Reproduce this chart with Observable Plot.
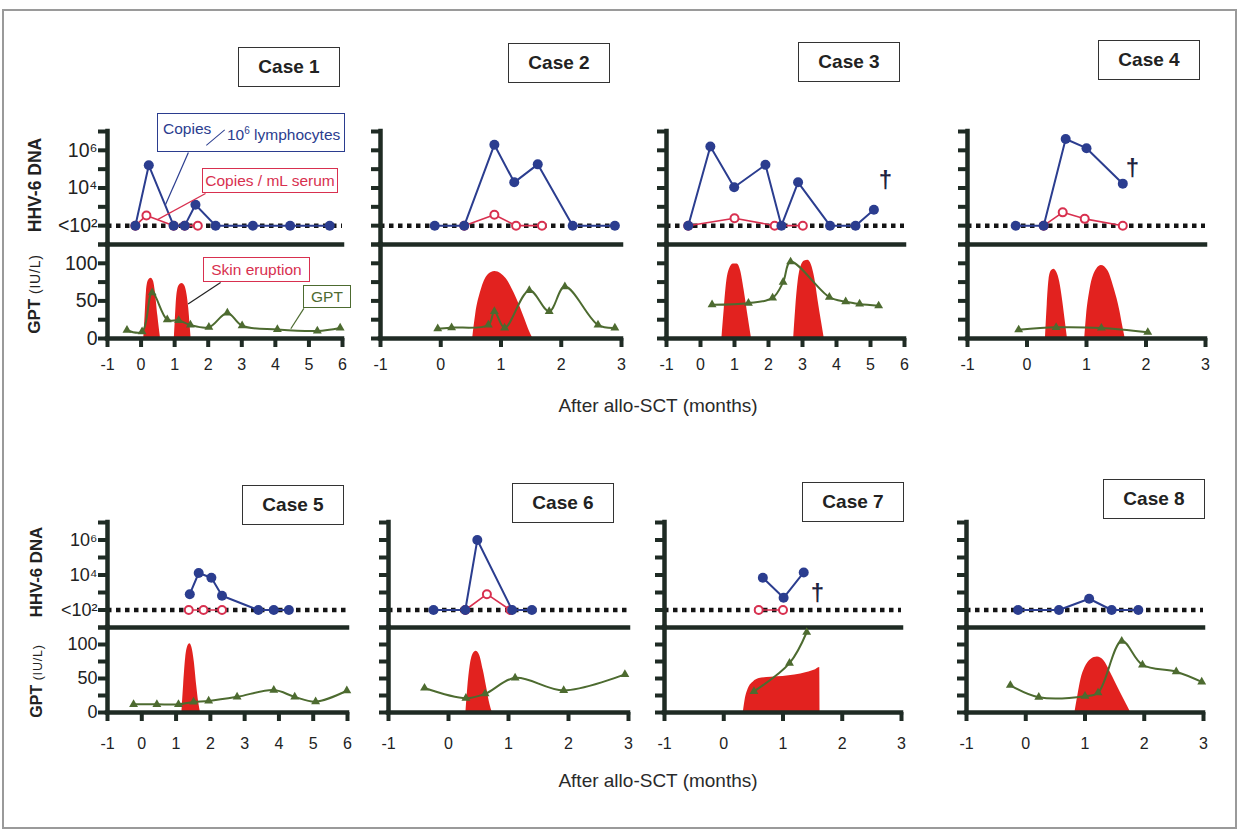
<!DOCTYPE html>
<html><head><meta charset="utf-8">
<script src="https://cdn.jsdelivr.net/npm/d3@7"></script>
<script src="https://cdn.jsdelivr.net/npm/@observablehq/plot@0.6"></script>
<style>
body{margin:0;background:#fff;}
#fig{position:relative;width:1239px;height:829px;overflow:hidden;font-family:"Liberation Sans",Arial,Helvetica,sans-serif;color:#222;background:#fff;}
.frame{position:absolute;left:2px;top:9px;width:1231px;height:816px;border:2px solid #9a9a9a;}
.title{position:absolute;box-sizing:border-box;width:102px;height:40px;border:1px solid #333;display:flex;align-items:center;justify-content:center;font-weight:bold;font-size:19px;color:#222;background:#fff;}
.ytitle{position:absolute;white-space:nowrap;transform:translate(-50%,-50%) rotate(-90deg);color:#222;font-weight:bold;}
.xtitle{position:absolute;white-space:nowrap;transform:translate(-50%,-50%);font-size:19px;color:#2a2a2a;}
.callout{position:absolute;box-sizing:border-box;background:#fff;font-size:15.5px;white-space:nowrap;display:flex;align-items:center;justify-content:center;}
</style></head>
<body><div id="fig"><div class="frame"></div></div>
<script>
// ---------- data ----------
const caseIds = [1, 2, 3, 4, 5, 6, 7, 8];
const caseXMax = [6, 3, 6, 3, 6, 3, 3, 3];
const xTicksLong = [-1, 0, 1, 2, 3, 4, 5, 6];
const xTicksShort = [-1, 0, 1, 2, 3];
const dnaTicks = [1e1, 1e2, 1e3, 1e4, 1e5, 1e6, 1e7];
const dnaTickLabels = ["", "<10²", "", "10⁴", "", "10⁶", ""];
const gptTicks = [0, 25, 50, 75, 100, 125];
const gptTickLabels = ["0", "", "50", "", "100", ""];
const detectionLimit = 100;

// [case, months after allo-SCT, HHV-6 DNA copies / 10^6 lymphocytes]
const lymphocyteCopies = [
  [1,-0.17,100],[1,0.23,1.6e5],[1,0.97,100],[1,1.3,100],[1,1.62,1.3e3],[1,2.22,100],[1,3.33,100],[1,4.44,100],[1,5.62,100],
  [2,-0.1,100],[2,0.39,100],[2,0.89,2e6],[2,1.22,2e4],[2,1.61,1.8e5],[2,2.19,100],[2,2.89,100],
  [3,-0.36,100],[3,0.29,1.6e6],[3,0.99,1.1e4],[3,1.91,1.7e5],[3,2.38,100],[3,2.87,2e4],[3,3.81,100],[3,4.56,100],[3,5.1,700],
  [4,-0.19,100],[4,0.28,100],[4,0.65,4e6],[4,1.0,1.3e6],[4,1.61,1.7e4],
  [5,1.4,800],[5,1.66,1.3e4],[5,2.03,7e3],[5,2.34,650],[5,3.4,100],[5,3.85,100],[5,4.29,100],
  [6,-0.25,100],[6,0.28,100],[6,0.48,1e6],[6,1.06,100],[6,1.39,100],
  [7,0.66,7e3],[7,1.01,500],[7,1.35,1.4e4],
  [8,-0.13,100],[8,0.56,100],[8,1.07,440],[8,1.45,100],[8,1.9,100]
];
// [case, months, HHV-6 DNA copies / mL serum]
const serumCopies = [
  [1,-0.17,100],[1,0.16,350],[1,0.97,100],[1,1.3,100],[1,1.69,100],
  [2,0.39,100],[2,0.89,380],[2,1.25,100],[2,1.68,100],
  [3,-0.36,100],[3,1.0,250],[3,2.18,100],[3,3.01,100],
  [4,0.28,100],[4,0.6,510],[4,0.97,230],[4,1.61,100],
  [5,1.37,100],[5,1.8,100],[5,2.34,100],
  [6,0.28,100],[6,0.64,800],[6,1.03,100],
  [7,0.59,100],[7,1.0,100]
];
// [case, months, GPT IU/L]
const gptLevels = [
  [1,-0.42,11],[1,0.03,9],[1,0.33,61],[1,0.78,25],[1,1.12,24],[1,1.47,18],[1,2.02,15],[1,2.57,34],[1,3.01,17],[1,4.06,12],[1,5.25,10],[1,5.93,14],
  [2,-0.05,13],[2,0.18,14.5],[2,0.79,18],[2,0.89,36],[2,1.06,14],[2,1.47,64],[2,1.8,36],[2,2.06,69],[2,2.61,18],[2,2.89,14],
  [3,0.34,45],[3,1.41,47],[3,2.12,54],[3,2.43,75],[3,2.65,102],[3,3.79,55],[3,4.27,49],[3,4.68,46],[3,5.24,43.5],
  [4,-0.14,11.6],[4,0.49,14.8],[4,1.25,13.9],[4,2.03,8.3],
  [5,-0.24,12],[5,0.44,12],[5,1.07,12],[5,1.51,15.6],[5,1.95,17],[5,2.78,23],[5,3.85,33],[5,4.46,23],[5,5.07,16],[5,5.98,32],
  [6,-0.4,36],[6,0.29,21],[6,0.61,27.5],[6,1.11,51],[6,1.92,32.5],[6,2.94,56],
  [7,0.51,31],[7,1.11,72.5],[7,1.4,118],
  [8,-0.26,40],[8,0.22,22.5],[8,1.0,24],[8,1.22,29],[8,1.62,105],[8,1.97,70],[8,2.54,60],[8,2.97,45]
];
// [case, episode, months, eruption extent (drawn on GPT axis)]
const skinEruption = [
  [1,"a",0.08,0],[1,"a",0.12,30],[1,"a",0.16,62],[1,"a",0.22,77],[1,"a",0.3,80],[1,"a",0.37,76],[1,"a",0.43,60],[1,"a",0.5,30],[1,"a",0.58,0],
  [1,"b",0.99,0],[1,"b",1.02,25],[1,"b",1.06,55],[1,"b",1.13,70],[1,"b",1.22,73],[1,"b",1.3,70],[1,"b",1.37,58],[1,"b",1.42,40],[1,"b",1.46,18],[1,"b",1.49,0],
  [2,"a",0.53,0],[2,"a",0.58,32],[2,"a",0.67,64],[2,"a",0.78,84],[2,"a",0.9,89],[2,"a",1.0,86],[2,"a",1.08,80],[2,"a",1.25,55],[2,"a",1.39,27],[2,"a",1.47,10],[2,"a",1.53,0],
  [3,"a",0.63,0],[3,"a",0.7,40],[3,"a",0.77,75],[3,"a",0.85,92],[3,"a",0.97,99],[3,"a",1.08,99],[3,"a",1.18,90],[3,"a",1.28,65],[3,"a",1.38,35],[3,"a",1.5,0],
  [3,"b",2.74,0],[3,"b",2.8,40],[3,"b",2.87,75],[3,"b",2.95,95],[3,"b",3.06,103],[3,"b",3.16,104],[3,"b",3.26,98],[3,"b",3.36,80],[3,"b",3.46,50],[3,"b",3.56,22],[3,"b",3.64,0],
  [4,"a",0.31,0],[4,"a",0.34,45],[4,"a",0.37,78],[4,"a",0.41,90],[4,"a",0.45,92],[4,"a",0.5,88],[4,"a",0.55,75],[4,"a",0.6,50],[4,"a",0.64,25],[4,"a",0.68,0],
  [4,"b",0.97,0],[4,"b",1.0,30],[4,"b",1.06,65],[4,"b",1.17,92],[4,"b",1.25,97],[4,"b",1.36,90],[4,"b",1.47,65],[4,"b",1.56,37],[4,"b",1.6,20],[4,"b",1.65,0],
  [5,"a",1.17,0],[5,"a",1.22,40],[5,"a",1.28,80],[5,"a",1.34,97],[5,"a",1.4,101],[5,"a",1.46,96],[5,"a",1.53,75],[5,"a",1.6,40],[5,"a",1.66,15],[5,"a",1.71,0],
  [6,"a",0.29,0],[6,"a",0.32,35],[6,"a",0.36,68],[6,"a",0.41,86],[6,"a",0.46,90],[6,"a",0.52,84],[6,"a",0.58,62],[6,"a",0.64,35],[6,"a",0.69,12],[6,"a",0.73,0],
  [7,"a",0.33,0],[7,"a",0.36,18],[7,"a",0.42,36],[7,"a",0.5,45],[7,"a",0.6,50],[7,"a",0.8,52],[7,"a",1.0,53],[7,"a",1.2,55],[7,"a",1.4,59],[7,"a",1.55,63],[7,"a",1.62,66],[7,"a",1.625,0],
  [8,"a",0.83,0],[8,"a",0.88,25],[8,"a",0.93,48],[8,"a",1.0,66],[8,"a",1.1,78],[8,"a",1.21,81.5],[8,"a",1.32,76],[8,"a",1.43,59],[8,"a",1.52,43],[8,"a",1.6,29],[8,"a",1.7,12],[8,"a",1.77,0]
];
// [case, months, level] — death (†)
const deaths = [[3,5.44,2.5e4],[4,1.77,1.1e5],[7,1.58,870]];
// case 1 callout leaders [x1, y1, x2, y2] in data units
const leaderLymph = [[1.41,7.7e5,0.72,1200]];
const leaderSerum = [[1.92,5100,0.49,210]];
const leaderSkin = [[2.37,74.5,1.4,46]];
const leaderGpt = [[4.85,40,4.46,13]];

// ---------- layout / style ----------
const C = {axis:"#1f2b24", blue:"#2b3d8f", red:"#d8304f", green:"#4d6b30", skin:"#e2221f", dots:"#151515", text:"#222", dagger:"#1e2340"};
const rowGeom = [
  {top:131, sep:244, bottom:338, yFont:19.5, pad:11, xTitleY:406},
  {top:522, sep:627, bottom:712, yFont:18, pad:16, xTitleY:781}
];
const caseXRange = [[107,342],[380,621],[666,904],[967,1205],[107,347],[388,628],[664,901],[966,1203]];
const titlePos = [[238,47],[508,43],[798,42],[1098,40],[242,485],[512,483],[802,482],[1103,479]];

const fig = document.getElementById("fig");
const FONT = '"Liberation Sans", Arial, Helvetica, sans-serif';
function place(el, left, top) { el.style.position = "absolute"; el.style.left = left + "px"; el.style.top = top + "px"; fig.appendChild(el); return el; }
const pts = (arr, c) => arr.filter(d => d[0] === c).map(d => ({x: d[1], y: d[2]}));
const axisStyle = {stroke: C.axis, strokeWidth: 4.5, strokeLinecap: "square"};

caseIds.forEach((c, i) => {
  const xmax = caseXMax[i];
  const [x0, x1] = caseXRange[i];
  const g = rowGeom[i < 4 ? 0 : 1];
  const labeled = c === 1 || c === 5;
  const ml = 12, mr = 12, mt = 6, mb = 6, mbB = 40;
  const lym = pts(lymphocyteCopies, c), ser = pts(serumCopies, c), gpt = pts(gptLevels, c);
  const er = skinEruption.filter(d => d[0] === c).map(d => ({ep: d[1], x: d[2], y: d[3]}));
  const dth = pts(deaths, c);

  // ---- HHV-6 DNA panel ----
  const topMarks = [
    Plot.ruleY([detectionLimit], {x1: () => -1, x2: () => xmax, stroke: C.dots, strokeWidth: 4.5, strokeDasharray: "4.5 4.5"}),
    Plot.line(ser, {x: "x", y: "y", stroke: C.red, strokeWidth: 1.6}),
    Plot.dot(ser, {x: "x", y: "y", r: 4, stroke: C.red, strokeWidth: 2, fill: "white"}),
    Plot.line(lym, {x: "x", y: "y", stroke: C.blue, strokeWidth: 2}),
    Plot.dot(lym, {x: "x", y: "y", r: 5, fill: C.blue}),
    Plot.ruleY([10], {x1: () => -1, x2: () => xmax, ...axisStyle}),
    Plot.ruleX([-1], {y1: () => 10, y2: () => 1e7, ...axisStyle}),
    Plot.axisY({ticks: dnaTicks, tickSize: 9, strokeWidth: 4, stroke: C.axis, tickPadding: 1, fontSize: g.yFont, fill: C.text,
      tickFormat: d => labeled ? dnaTickLabels[dnaTicks.indexOf(d)] : "", label: null}),
    Plot.text(dth, {x: "x", y: "y", text: () => "†", fontSize: 24, fontWeight: "bold", fill: C.dagger})
  ];
  if (c === 1) {
    topMarks.push(Plot.link(leaderLymph, {x1: d => d[0], y1: d => d[1], x2: d => d[2], y2: d => d[3], stroke: C.blue, strokeWidth: 1.2}));
    topMarks.push(Plot.link(leaderSerum, {x1: d => d[0], y1: d => d[1], x2: d => d[2], y2: d => d[3], stroke: C.red, strokeWidth: 1.2}));
  }
  const wTop = x1 - x0 + ml + mr, hTop = g.sep - g.top + mt + mb;
  const top = Plot.plot({
    width: wTop, height: hTop, marginLeft: ml, marginRight: mr, marginTop: mt, marginBottom: mb,
    style: {background: "none", overflow: "visible", fontFamily: FONT, color: C.text},
    x: {domain: [-1, xmax], axis: null},
    y: {type: "log", domain: [10, 1e7], axis: null},
    marks: topMarks
  });
  place(top, x0 - ml, g.top - mt);

  // ---- GPT panel ----
  const botMarks = [
    Plot.areaY(er, {x: "x", y: "y", z: "ep", fill: C.skin, curve: "monotone-x"}),
    Plot.line(gpt, {x: "x", y: "y", stroke: C.green, strokeWidth: 2, curve: "catmull-rom"}),
    Plot.dot(gpt, {x: "x", y: "y", symbol: "triangle", r: 3.3, fill: C.green}),
    Plot.ruleY([0], {x1: () => -1, x2: () => xmax, ...axisStyle}),
    Plot.ruleX([-1], {y1: () => 0, y2: () => 125, ...axisStyle}),
    Plot.axisY({ticks: gptTicks, tickSize: 9, strokeWidth: 4, stroke: C.axis, tickPadding: 1, fontSize: g.yFont, fill: C.text,
      tickFormat: d => labeled ? gptTickLabels[gptTicks.indexOf(d)] : "", label: null}),
    Plot.axisX({ticks: xmax === 6 ? xTicksLong : xTicksShort, tickSize: 9, strokeWidth: 4, stroke: C.axis, tickPadding: g.pad, fontSize: 16, fill: C.text,
      tickFormat: d => String(d), label: null})
  ];
  if (c === 1) {
    botMarks.push(Plot.link(leaderSkin, {x1: d => d[0], y1: d => d[1], x2: d => d[2], y2: d => d[3], stroke: "#222", strokeWidth: 1.2}));
    botMarks.push(Plot.link(leaderGpt, {x1: d => d[0], y1: d => d[1], x2: d => d[2], y2: d => d[3], stroke: C.green, strokeWidth: 1.2}));
  }
  const hBot = g.bottom - g.sep + mt + mbB;
  const bot = Plot.plot({
    width: wTop, height: hBot, marginLeft: ml, marginRight: mr, marginTop: mt, marginBottom: mbB,
    style: {background: "none", overflow: "visible", fontFamily: FONT, color: C.text},
    x: {domain: [-1, xmax]},
    y: {domain: [0, 125]},
    marks: botMarks
  });
  place(bot, x0 - ml, g.sep - mt);

  // ---- case title ----
  const t = document.createElement("div");
  t.className = "title"; t.textContent = "Case " + c;
  place(t, titlePos[i][0], titlePos[i][1]);
});

// axis titles
[[35, 185, 35, 294, 17.5, 17, 14], [37, 572, 37, 681, 16.8, 16, 12.5]].forEach(([hx, hy, gx, gy, hs, gs, us]) => {
  const h = document.createElement("div");
  h.className = "ytitle"; h.style.fontSize = hs + "px"; h.textContent = "HHV-6 DNA";
  place(h, hx, hy);
  const p = document.createElement("div");
  p.className = "ytitle"; p.style.fontSize = gs + "px";
  p.innerHTML = 'GPT <span style="font-weight:normal;font-size:' + us + 'px;letter-spacing:0.8px">(IU/L)</span>';
  place(p, gx, gy);
});
rowGeom.forEach(g => {
  const x = document.createElement("div");
  x.className = "xtitle"; x.textContent = "After allo-SCT (months)";
  place(x, 658, g.xTitleY);
});

// case 1 callouts
function callout(left, top, w, h, color, html) {
  const d = document.createElement("div");
  d.className = "callout";
  d.style.width = w + "px"; d.style.height = h + "px";
  d.style.border = "1px solid " + color; d.style.color = color;
  d.innerHTML = html;
  return place(d, left, top);
}
const lymBox = callout(157, 113, 188, 39, C.blue, "");
lymBox.style.display = "block";
lymBox.innerHTML =
  '<span style="position:absolute;left:5px;top:6px">Copies</span>' +
  '<span style="position:absolute;left:48px;top:31px;width:24px;border-top:1.2px solid ' + C.blue + ';transform:rotate(-40deg);transform-origin:0 0"></span>' +
  '<span style="position:absolute;left:69px;top:11px">10<sup style="font-size:10px">6</sup>&nbsp;lymphocytes</span>';
callout(202, 168, 136, 25, C.red, "Copies / mL serum");
callout(203, 257, 107, 25, C.red, "Skin eruption");
callout(303, 285, 48, 23, C.green, "GPT");
</script>
</body></html>
